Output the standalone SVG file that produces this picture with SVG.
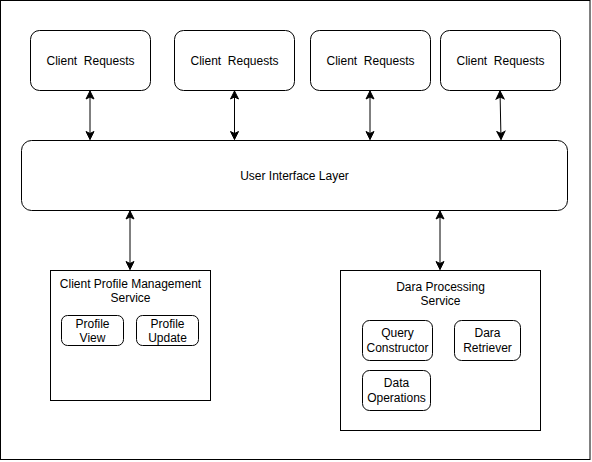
<svg xmlns="http://www.w3.org/2000/svg" width="592" height="462" viewBox="0 0 592 462">
<defs>
<style>
.box{fill:#fff;stroke:#000;stroke-width:1}
.t{font-family:"Liberation Sans",Arial,sans-serif;font-size:12px;fill:#000;text-anchor:middle;white-space:pre}
.c{stroke:#000;stroke-width:1;fill:none;marker-start:url(#ah);marker-end:url(#ah)}
</style>
<marker id="ah" markerUnits="userSpaceOnUse" viewBox="-9 -5 10 10" refX="0" refY="0" markerWidth="10" markerHeight="10" orient="auto-start-reverse">
<path d="M0,0 L-8,-4 L-6,0 L-8,4 Z" fill="#000" stroke="#000" stroke-width="1"/>
</marker>
</defs>
<rect x="0.5" y="0.5" width="589.5" height="459" fill="#fff" stroke="#000" stroke-width="1"/>
<g id="connectors">
<line class="c" x1="90" y1="91" x2="90" y2="139.5"/>
<line class="c" x1="234.5" y1="91" x2="234.5" y2="139.5"/>
<line class="c" x1="370" y1="91" x2="370" y2="139.5"/>
<line class="c" x1="500" y1="91" x2="501" y2="139.5"/>
<line class="c" x1="130" y1="211" x2="130" y2="269.5"/>
<line class="c" x1="440" y1="211" x2="440" y2="269.5"/>
</g>
<g id="cr1"><rect class="box" x="30.5" y="30.5" width="120" height="60" rx="9"/><text class="t" x="90.5" y="64.5">Client  Requests</text></g>
<g id="cr2"><rect class="box" x="174.5" y="30.5" width="120" height="60" rx="9"/><text class="t" x="234.5" y="64.5">Client  Requests</text></g>
<g id="cr3"><rect class="box" x="310.5" y="30.5" width="120" height="60" rx="9"/><text class="t" x="370.5" y="64.5">Client  Requests</text></g>
<g id="cr4"><rect class="box" x="440.5" y="30.5" width="120" height="60" rx="9"/><text class="t" x="500.5" y="64.5">Client  Requests</text></g>
<g id="ui"><rect class="box" x="21.5" y="140.5" width="546" height="70" rx="10"/><text class="t" x="294.5" y="179.5">User Interface Layer</text></g>
<g id="cpms"><rect class="box" x="50.5" y="270.5" width="160" height="130"/>
<text class="t" x="130.5" y="287.5">Client Profile Management</text><text class="t" x="130.5" y="302">Service</text></g>
<g id="pv"><rect class="box" x="61.5" y="315.5" width="62" height="30" rx="6"/><text class="t" x="92.5" y="327.5">Profile</text><text class="t" x="92.5" y="342">View</text></g>
<g id="pu"><rect class="box" x="136.5" y="315.5" width="62" height="30" rx="6"/><text class="t" x="167.5" y="327.5">Profile</text><text class="t" x="167.5" y="342">Update</text></g>
<g id="dps"><rect class="box" x="340.5" y="270.5" width="200" height="160"/>
<text class="t" x="440.5" y="291">Dara Processing</text><text class="t" x="440.5" y="305">Service</text></g>
<g id="qc"><rect class="box" x="362.5" y="320.5" width="70" height="40" rx="7"/><text class="t" x="397.5" y="337">Query</text><text class="t" x="397.5" y="351.5">Constructor</text></g>
<g id="dr"><rect class="box" x="454.5" y="320.5" width="66" height="40" rx="7"/><text class="t" x="487.5" y="337">Dara</text><text class="t" x="487.5" y="351.5">Retriever</text></g>
<g id="do"><rect class="box" x="362.5" y="370.5" width="68" height="40" rx="7"/><text class="t" x="396.5" y="387">Data</text><text class="t" x="396.5" y="401.5">Operations</text></g>
</svg>
